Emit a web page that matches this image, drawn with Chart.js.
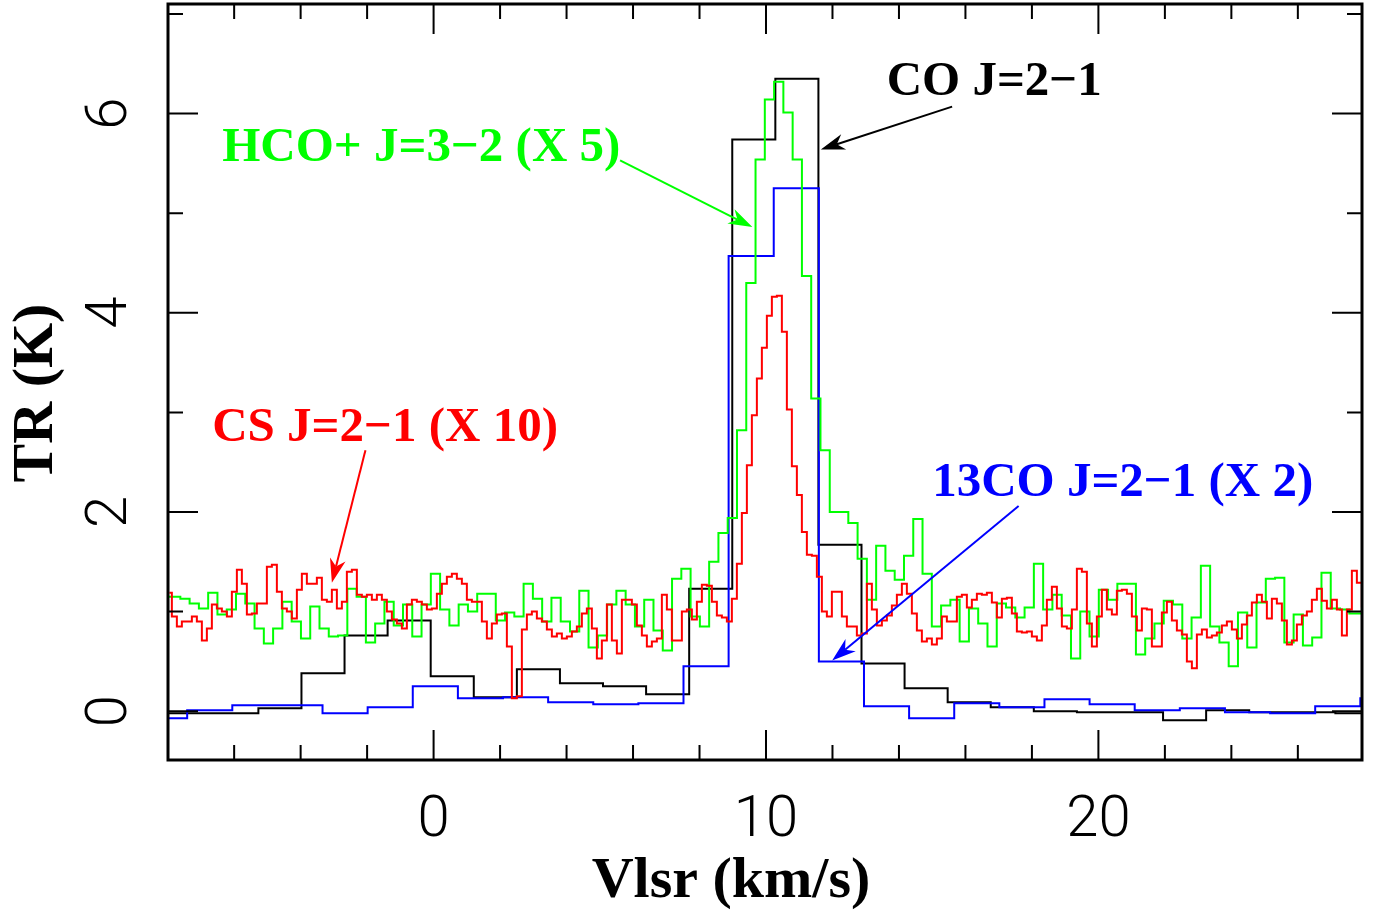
<!DOCTYPE html>
<html>
<head>
<meta charset="utf-8">
<script src="https://cdn.jsdelivr.net/npm/chart.js@4/dist/chart.umd.min.js"></script>
<style>
html, body { margin: 0; padding: 0; background: #fff; }
#wrap { width: 1380px; height: 913px; position: relative; }
</style>
</head>
<body>
<div id="wrap"><canvas id="chart"></canvas></div>
<script>
// each spectrum: velocity of first channel centre, channel width (km/s), TR values (K)
const coStart = -8.511, coStep = 1.296;
const coVals = [-0.02, -0.02, -0.02, 0.03, 0.38, 0.76, 0.91, 0.35, 0.14, 0.42,
  0.28, 0.25, 0.17, 1.23, 5.74, 6.35, 1.67, 0.48, 0.23, 0.09,
  0.04, 0.00, -0.01, -0.01, -0.09, 0.01, -0.01, -0.01, -0.02, -0.02];

// 13CO J=2-1, already multiplied by 2
const co13Start = -8.092, co13Step = 1.3574;
const co13Vals = [-0.07, 0.01, 0.06, 0.06, -0.02, 0.04, 0.25, 0.13, 0.14, 0.09,
  0.07, 0.08, 0.45, 4.57, 5.25, 0.50, 0.05, -0.07, 0.08, 0.04,
  0.12, 0.07, 0.01, 0.03, -0.01, -0.02, 0.05, 0.13];

// HCO+ J=3-2 (x5)
const hcoStart = -8.0375, hcoStep = 0.2791;
const hcoVals = [1.15, 1.15, 1.13, 1.08, 1.03, 1.19, 0.97, 1.02, 1.18, 1.08,
  0.83, 0.68, 0.83, 1.10, 0.90, 0.73, 1.05, 0.83, 0.75, 0.76,
  1.23, 1.15, 0.69, 0.88, 1.10, 0.86, 1.07, 0.75, 1.07, 1.38,
  1.02, 0.86, 1.07, 1.00, 1.18, 1.18, 0.91, 0.99, 0.95, 1.28,
  1.13, 0.90, 1.14, 0.90, 0.80, 1.21, 0.64, 0.76, 1.07, 1.21,
  1.07, 0.85, 1.12, 0.81, 0.61, 1.33, 1.43, 0.95, 0.85, 1.50,
  1.79, 1.94, 2.82, 4.30, 5.54, 6.14, 6.32, 6.01, 5.54, 4.37,
  3.14, 2.62, 2.00, 2.00, 1.89, 1.53, 1.12, 1.66, 1.41, 1.32,
  1.56, 1.93, 1.38, 0.85, 1.06, 1.12, 0.70, 1.03, 0.88, 0.65,
  1.08, 1.04, 0.94, 1.04, 1.48, 1.02, 1.17, 0.96, 0.53, 1.00,
  0.75, 1.22, 1.12, 1.28, 1.28, 0.57, 0.73, 0.88, 1.11, 1.07,
  0.73, 0.94, 1.46, 0.85, 0.69, 0.45, 0.99, 0.64, 1.09, 1.33,
  1.34, 0.69, 0.97, 0.66, 0.74, 1.39, 1.03, 1.02, 0.98, 0.98];

// CS J=2-1 (x10)
const csStart = -7.949, csStep = 0.15042;
const csVals = [1.19, 0.95, 0.85, 0.90, 0.90, 0.95, 0.90, 0.71, 0.83, 1.07,
  1.03, 1.00, 0.95, 1.20, 1.42, 1.28, 0.97, 0.98, 1.08, 1.08,
  1.45, 1.47, 1.20, 1.03, 1.00, 0.93, 1.22, 1.38, 1.28, 1.28,
  1.34, 1.12, 1.10, 1.22, 1.03, 1.10, 1.40, 1.42, 1.17, 1.15,
  1.17, 1.12, 1.17, 1.12, 1.00, 0.92, 0.88, 0.83, 1.07, 1.12,
  1.10, 1.07, 1.02, 1.03, 1.18, 1.28, 1.35, 1.38, 1.33, 1.28,
  1.12, 1.10, 1.10, 0.90, 0.73, 0.88, 0.97, 0.98, 0.65, 0.13,
  0.15, 0.82, 0.97, 1.00, 0.93, 0.90, 0.82, 0.75, 0.78, 0.73,
  0.75, 0.80, 0.85, 0.98, 1.03, 0.83, 0.53, 0.71, 1.07, 0.71,
  0.58, 1.12, 1.12, 1.07, 0.86, 0.76, 0.65, 0.70, 0.73, 1.17,
  1.02, 0.71, 0.71, 1.00, 1.02, 0.92, 1.10, 1.27, 1.26, 1.10,
  0.96, 0.94, 0.90, 1.13, 1.48, 1.99, 2.47, 2.97, 3.34, 3.65,
  3.97, 4.16, 4.17, 3.81, 3.03, 2.46, 2.17, 1.80, 1.57, 1.56,
  1.35, 1.00, 0.95, 1.20, 1.20, 0.95, 0.85, 0.85, 0.76, 0.78,
  1.28, 1.02, 0.86, 0.91, 0.96, 1.06, 1.17, 1.28, 1.18, 0.98,
  0.81, 0.70, 0.73, 0.67, 0.73, 0.95, 0.90, 0.90, 1.15, 1.17,
  1.04, 1.12, 1.18, 1.17, 1.19, 1.09, 0.94, 1.13, 1.14, 0.98,
  0.80, 0.79, 0.80, 0.75, 0.71, 0.86, 1.12, 1.25, 1.03, 0.85,
  0.83, 1.02, 1.43, 1.40, 0.88, 0.65, 0.95, 1.22, 1.02, 0.97,
  1.21, 1.22, 1.18, 0.95, 0.81, 1.03, 1.02, 0.65, 0.65, 0.99,
  1.10, 0.91, 0.81, 0.77, 0.50, 0.43, 0.77, 0.82, 0.74, 0.76,
  0.79, 0.86, 0.90, 0.82, 0.73, 0.87, 0.96, 1.09, 1.17, 1.10,
  0.93, 1.13, 1.08, 0.91, 0.67, 0.71, 0.87, 0.96, 1.00, 1.12,
  1.23, 1.11, 1.03, 1.12, 1.02, 0.76, 1.02, 1.41, 1.29, 1.05];

const xTickValues = [0, 10, 20];
const xTickLabels = ['0', '10', '20'];
const yTickValues = [0, 2, 4, 6];
const yTickLabels = ['0', '2', '4', '6'];

// line labels and arrows, in data coordinates
const notes = [
  { text: 'CO J=2\u22121', color: '#000000', x: 13.63, y: 6.19, from: [15.60, 6.07], to: [11.65, 5.64] },
  { text: 'HCO+ J=3\u22122 (X 5)', color: '#00ff00', x: -6.36, y: 5.52, from: [5.61, 5.53], to: [9.59, 4.86] },
  { text: 'CS J=2\u22121 (X 10)', color: '#ff0000', x: -6.66, y: 2.71, from: [-2.05, 2.62], to: [-3.06, 1.29] },
  { text: '13CO J=2\u22121 (X 2)', color: '#0000ff', x: 15.0, y: 2.16, from: [17.60, 2.06], to: [11.99, 0.51] }
];

function spectrum(v0, dv, vals) {
  return vals.map((t, i) => ({ x: v0 + i * dv, y: t }));
}

function arrow(ctx, x0, y0, x1, y1, color) {
  const a = Math.atan2(y1 - y0, x1 - x0);
  const c = Math.cos(a), s = Math.sin(a);
  const L = 24, W = 8;
  ctx.strokeStyle = color;
  ctx.fillStyle = color;
  ctx.lineWidth = 2;
  ctx.beginPath();
  ctx.moveTo(x0, y0);
  ctx.lineTo(x1 - c * L * 0.7, y1 - s * L * 0.7);
  ctx.stroke();
  ctx.beginPath();
  ctx.moveTo(x1, y1);
  ctx.lineTo(x1 - c * L - s * W, y1 - s * L + c * W);
  ctx.lineTo(x1 - c * L * 0.7, y1 - s * L * 0.7);
  ctx.lineTo(x1 - c * L + s * W, y1 - s * L - c * W);
  ctx.closePath();
  ctx.fill();
}

const framePlugin = {
  id: 'frame',
  afterDatasetsDraw(chart) {
    const { ctx, chartArea: a, scales: { x, y } } = chart;
    ctx.save();
    ctx.strokeStyle = '#000';
    ctx.lineWidth = 2;
    ctx.beginPath();
    // inward ticks on all four sides
    for (let v = -8; v <= 28; v += 2) {
      if (v < x.min || v > x.max) continue;
      const px = x.getPixelForValue(v);
      const len = v % 10 === 0 ? 30 : 15;
      ctx.moveTo(px, a.bottom); ctx.lineTo(px, a.bottom - len);
      ctx.moveTo(px, a.top); ctx.lineTo(px, a.top + len);
    }
    for (let v = 0; v <= 7; v += 1) {
      const py = y.getPixelForValue(v);
      const len = v % 2 === 0 ? 30 : 15;
      ctx.moveTo(a.left, py); ctx.lineTo(a.left + len, py);
      ctx.moveTo(a.right, py); ctx.lineTo(a.right - len, py);
    }
    ctx.stroke();
    ctx.lineWidth = 3;
    ctx.strokeRect(a.left, a.top, a.right - a.left, a.bottom - a.top);

    // tick labels
    ctx.fillStyle = '#000';
    ctx.font = '300 58px Roboto';
    ctx.textAlign = 'center';
    ctx.textBaseline = 'alphabetic';
    xTickValues.forEach((v, i) => {
      ctx.fillText(xTickLabels[i], x.getPixelForValue(v), 836);
    });
    yTickValues.forEach((v, i) => {
      ctx.save();
      ctx.translate(126, y.getPixelForValue(v));
      ctx.rotate(-Math.PI / 2);
      ctx.fillText(yTickLabels[i], 0, 0);
      ctx.restore();
    });

    // axis titles
    ctx.font = 'bold 58px "Liberation Serif"';
    ctx.fillText('Vlsr (km/s)', 731, 897);
    ctx.save();
    ctx.translate(52, 393);
    ctx.rotate(-Math.PI / 2);
    ctx.fillText('TR (K)', 0, 0);
    ctx.restore();

    // line labels with arrows
    ctx.font = 'bold 49px "Liberation Serif"';
    ctx.textAlign = 'left';
    notes.forEach(n => {
      ctx.fillStyle = n.color;
      ctx.fillText(n.text, x.getPixelForValue(n.x), y.getPixelForValue(n.y));
      arrow(ctx,
        x.getPixelForValue(n.from[0]), y.getPixelForValue(n.from[1]),
        x.getPixelForValue(n.to[0]), y.getPixelForValue(n.to[1]), n.color);
    });
    ctx.restore();
  }
};

const line = (data, color, order) => ({
  data: data,
  borderColor: color,
  borderWidth: 2,
  stepped: 'middle',
  pointRadius: 0,
  fill: false,
  order: order
});

new Chart(document.getElementById('chart'), {
  type: 'line',
  data: {
    datasets: [
      line(spectrum(csStart, csStep, csVals), '#ff0000', 0),
      line(spectrum(hcoStart, hcoStep, hcoVals), '#00ff00', 1),
      line(spectrum(co13Start, co13Step, co13Vals), '#0000ff', 2),
      line(spectrum(coStart, coStep, coVals), '#000000', 3)
    ]
  },
  options: {
    responsive: true,
    maintainAspectRatio: false,
    devicePixelRatio: 1,
    animation: false,
    layout: { padding: { left: 168, right: 18, top: 4, bottom: 153 } },
    plugins: { legend: { display: false }, tooltip: { enabled: false } },
    scales: {
      x: { type: 'linear', min: -7.99, max: 27.93, display: false },
      y: { type: 'linear', min: -0.49, max: 7.1, display: false }
    }
  },
  plugins: [framePlugin]
});
</script>
</body>
</html>
